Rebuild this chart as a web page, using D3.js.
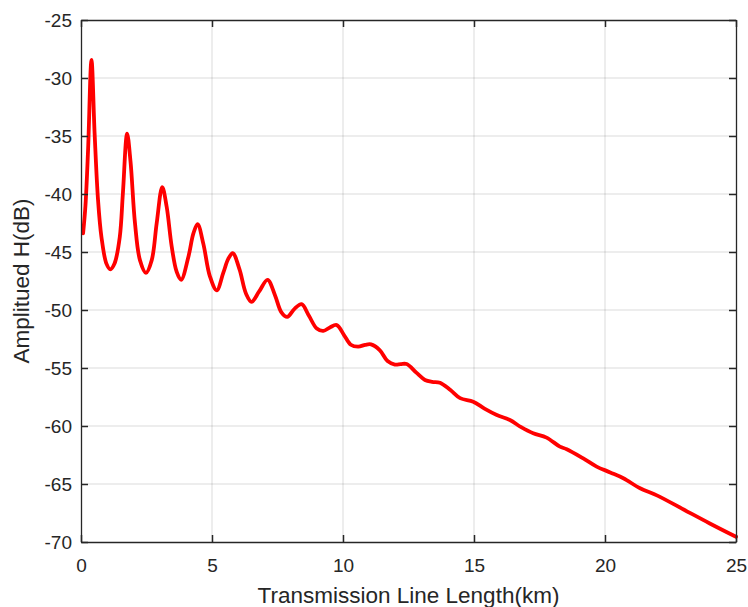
<!DOCTYPE html>
<html>
<head>
<meta charset="utf-8">
<script src="https://cdn.jsdelivr.net/npm/d3@7"></script>
<style>
  body { margin: 0; background: #fff; }
  text { font-family: "Liberation Sans", Arial, Helvetica, sans-serif; fill: #262626; }
</style>
</head>
<body>
<svg id="chart" width="748" height="607"></svg>
<script>
// ---- data ----
const lengthKm = [0.08, 0.17, 0.27, 0.40, 0.52, 0.65, 0.78, 0.97, 1.12, 1.28, 1.48, 1.60, 1.76, 1.89, 2.06, 2.25, 2.48,
  2.70, 2.89, 3.10, 3.27, 3.46, 3.65, 3.82, 4.10, 4.29, 4.45, 4.67, 4.92, 5.18, 5.43, 5.62, 5.79, 6.05, 6.30, 6.51,
  6.80, 7.12, 7.40, 7.65, 7.87, 8.15, 8.42, 8.70, 9.00, 9.25, 9.50, 9.76, 10.05, 10.30, 10.58, 10.85, 11.07, 11.40,
  11.70, 11.98, 12.20, 12.43, 12.80, 13.13, 13.40, 13.70, 14.10, 14.47, 14.97, 15.40, 15.87, 16.37, 16.80, 17.26,
  17.77, 18.28, 18.54, 19.17, 19.68, 20.20, 20.70, 21.34, 22.00, 23.00, 24.00, 25.00];
const amplitudeDb = [-43.4, -41.0, -36.2, -28.45, -34.8, -40.5, -43.7, -46.0, -46.5, -46.0, -43.7, -39.9, -34.8, -37.2, -42.5, -45.7, -46.8,
  -45.7, -42.5, -39.4, -41.1, -44.5, -46.7, -47.4, -45.4, -43.4, -42.6, -44.3, -47.1, -48.3, -46.8, -45.6, -45.1, -46.5, -48.6, -49.3,
  -48.4, -47.4, -48.7, -50.2, -50.6, -49.9, -49.5, -50.5, -51.6, -51.8, -51.5, -51.3, -52.2, -53.0, -53.16, -53.0, -52.96, -53.45,
  -54.4, -54.7, -54.67, -54.66, -55.4, -56.03, -56.2, -56.27, -56.9, -57.6, -57.9, -58.5, -59.05, -59.48, -60.1, -60.63,
  -61.0, -61.78, -62.0, -62.79, -63.5, -64.0, -64.5, -65.37, -66.0, -67.2, -68.4, -69.55];
const xTicks = [0, 5, 10, 15, 20, 25];
const yTicks = [-70, -65, -60, -55, -50, -45, -40, -35, -30, -25];
const xLabel = "Transmission Line Length(km)";
const yLabel = "Amplitued H(dB)";

// ---- layout ----
const W = 748, H = 607;
const m = { left: 81, top: 20, right: 12, bottom: 65 };
const iw = W - m.left - m.right, ih = H - m.top - m.bottom;

const svg = d3.select("#chart");
const g = svg.append("g").attr("transform", `translate(${m.left},${m.top})`);

const x = d3.scaleLinear().domain([0, 25]).range([0, iw]);
const y = d3.scaleLinear().domain([-70, -25]).range([ih, 0]);

// grid
g.append("g").selectAll("line").data(xTicks.slice(1, -1)).join("line")
  .attr("x1", d => x(d)).attr("x2", d => x(d)).attr("y1", 0).attr("y2", ih)
  .attr("stroke", "#262626").attr("stroke-opacity", 0.17).attr("stroke-width", 1);
g.append("g").selectAll("line").data(yTicks.slice(1, -1)).join("line")
  .attr("y1", d => y(d)).attr("y2", d => y(d)).attr("x1", 0).attr("x2", iw)
  .attr("stroke", "#262626").attr("stroke-opacity", 0.17).attr("stroke-width", 1);

// curve
const pts = lengthKm.map((v, i) => [v, amplitudeDb[i]]);
g.append("path").datum(pts)
  .attr("fill", "none").attr("stroke", "#ff0000").attr("stroke-width", 3.8)
  .attr("stroke-linejoin", "round").attr("stroke-linecap", "round")
  .attr("d", d3.line().x(d => x(d[0])).y(d => y(d[1])).curve(d3.curveCatmullRom.alpha(0.5)));

// axes
const tickLen = 7;
const fmt = d => String(d);
const styleAxis = sel => {
  sel.select(".domain").attr("stroke", "#262626").attr("stroke-width", 1.3);
  sel.selectAll(".tick line").attr("stroke", "#262626").attr("stroke-width", 1.5);
  sel.selectAll(".tick text").attr("font-size", "19px").attr("fill", "#262626")
    .attr("font-family", '"Liberation Sans", Arial, sans-serif');
};
const xAxis = g.append("g").attr("transform", `translate(0,${ih})`)
  .call(d3.axisBottom(x).tickValues(xTicks).tickFormat(fmt).tickSize(-tickLen).tickPadding(17).tickSizeOuter(0));
styleAxis(xAxis);
const yAxis = g.append("g")
  .call(d3.axisLeft(y).tickValues(yTicks).tickFormat(fmt).tickSize(-tickLen).tickPadding(9).tickSizeOuter(0));
styleAxis(yAxis);
const xTop = g.append("g")
  .call(d3.axisTop(x).tickValues(xTicks).tickSize(-tickLen).tickFormat("").tickSizeOuter(0));
styleAxis(xTop);
const yRight = g.append("g").attr("transform", `translate(${iw},0)`)
  .call(d3.axisRight(y).tickValues(yTicks).tickSize(-tickLen).tickFormat("").tickSizeOuter(0));
styleAxis(yRight);

// axis titles
svg.append("text").attr("x", m.left + iw / 2).attr("y", 603)
  .attr("text-anchor", "middle").attr("font-size", "22.5px").text(xLabel);
svg.append("text").attr("transform", `translate(29,${m.top + ih / 2}) rotate(-90)`)
  .attr("text-anchor", "middle").attr("font-size", "22.5px").text(yLabel);
</script>
</body>
</html>
